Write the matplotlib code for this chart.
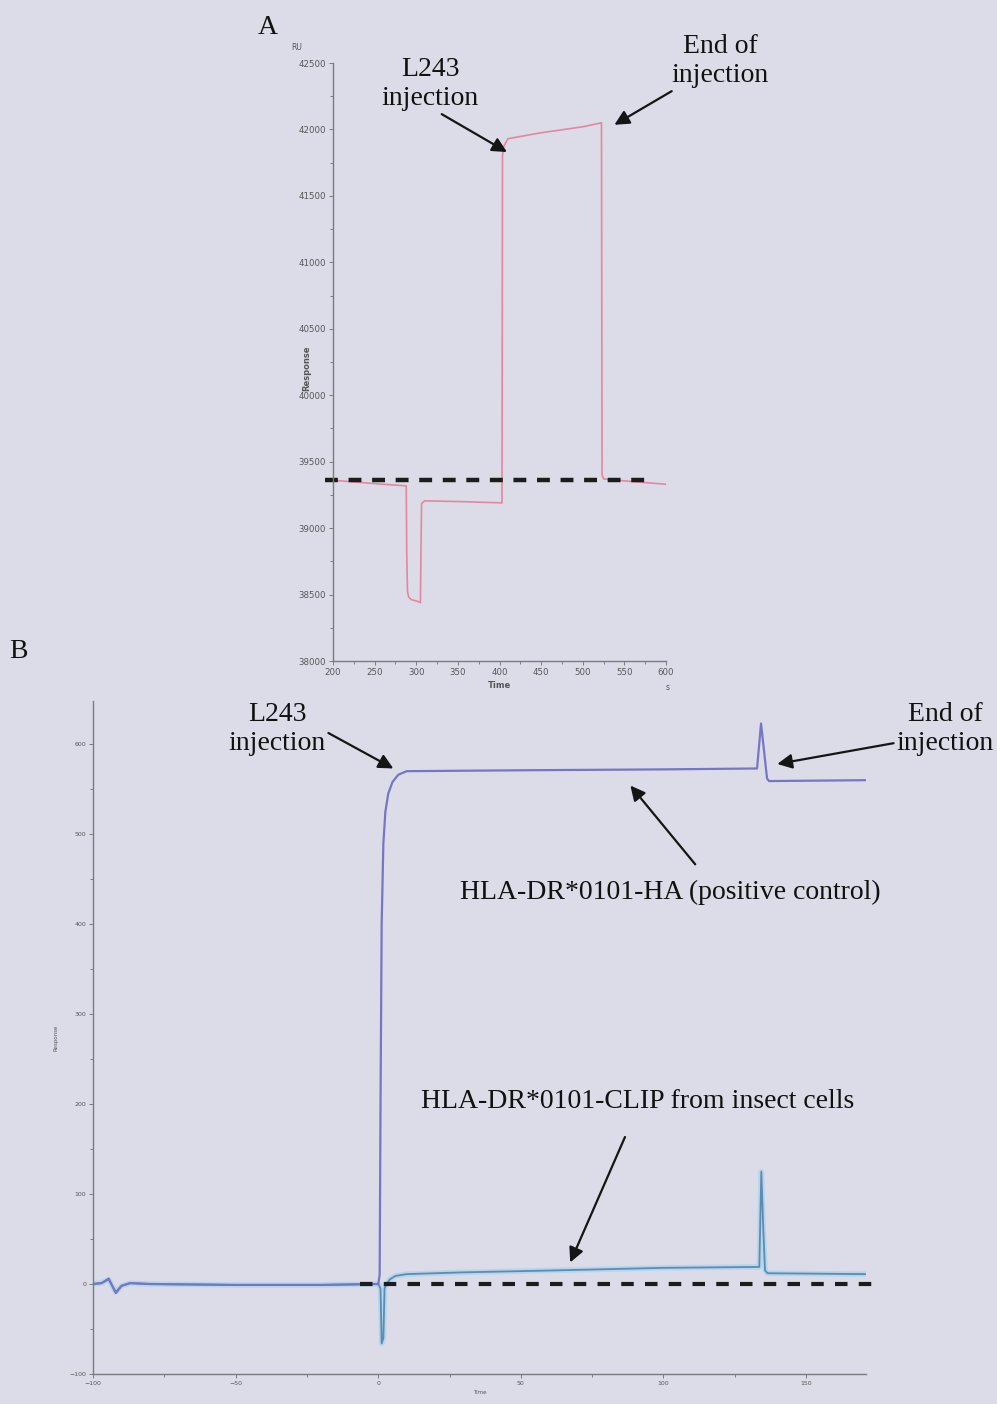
import matplotlib.pyplot as plt
from matplotlib.ticker import MultipleLocator

# Panel A: sensorgram of the L243 injection (RU vs s)
time_a = [200, 230, 260, 288, 288.6, 289.5, 291, 294, 300, 305, 305.6, 306.4, 310,
          350, 403, 403.6, 405, 410, 450, 500, 522.5, 523.2, 525, 560, 600]
resp_a = [39360, 39345, 39330, 39318, 38800, 38520, 38480, 38462, 38452, 38440, 38800,
          39185, 39205, 39200, 39190, 41800, 41870, 41930, 41975, 42020, 42050, 39400,
          39370, 39350, 39330]
baseline_a = 39360

# Panel B: HLA-DR*0101-HA (positive control)
time_ha = [-100, -97, -94.5, -92, -90, -87, -80, -50, -20, -1, 0, 0.5, 0.8, 1.2, 1.8,
           2.5, 3.5, 5, 7, 10, 50, 100, 132.8, 134.2, 135.0, 136.3, 137, 171]
resp_ha = [0, 1, 6, -10, -2, 1, 0, -1, -1, 0, 0, 10, 200, 400, 490, 525, 545, 558,
           566, 570, 571, 572, 573, 623, 600, 562, 559, 560]

# Panel B: HLA-DR*0101-CLIP from insect cells
time_clip = [-100, -97, -94.5, -92, -90, -87, -80, -50, -20, -1, 0, 0.8, 1.2, 1.8, 2.2,
             3, 4, 6, 10, 20, 30, 60, 100, 133.6, 134.3, 135.0, 135.6, 136.5, 171]
resp_clip = [0, 1, 5, -9, -2, 1, 0, -1, -1, 0, 0, -5, -66, -60, -5, 0, 5, 9, 11, 12,
             13, 15, 18, 19, 125, 60, 15, 12, 11]

W, H = 997, 1404
bg = '#dcdce8'
serif = 'Liberation Serif'


def fx(px):
    return px / W


def fy(py):
    return 1 - py / H


def style_axes(ax, size):
    ax.set_facecolor('none')
    for s in ['top', 'right']:
        ax.spines[s].set_visible(False)
    for s in ['left', 'bottom']:
        ax.spines[s].set_color('#7a7a80')
        ax.spines[s].set_linewidth(1.0)
    ax.tick_params(which='both', direction='out', color='#7a7a80', width=0.7,
                   labelsize=size, labelcolor='#555558', pad=2)
    ax.tick_params(which='major', length=3)
    ax.tick_params(which='minor', length=2)


fig = plt.figure(figsize=(W / 100, H / 100), dpi=100, facecolor=bg)

# ---- panel A ----
axa = fig.add_axes([fx(333), fy(661), fx(666) - fx(333), fy(63) - fy(661)])
style_axes(axa, 6.2)
axa.plot(time_a, resp_a, color='#e387a0', lw=1.2)
axa.plot([190, 584], [baseline_a, baseline_a], color='#1c1c1c', lw=3.2,
         ls=(0, (2.9, 2.4)), clip_on=False)
axa.set_xlim(200, 600)
axa.set_ylim(38000, 42500)
axa.xaxis.set_major_locator(MultipleLocator(50))
axa.xaxis.set_minor_locator(MultipleLocator(25))
axa.yaxis.set_major_locator(MultipleLocator(500))
axa.yaxis.set_minor_locator(MultipleLocator(250))
axa.set_xlabel('Time', fontsize=6, color='#555558', fontweight='bold', labelpad=3)
axa.set_ylabel('Response', fontsize=6, color='#555558', fontweight='bold')
axa.yaxis.set_label_coords(-0.065, 0.49)
fig.text(fx(297), fy(47), 'RU', fontsize=5.5, color='#555558', ha='center', va='center')
fig.text(fx(668), fy(688), 's', fontsize=5.5, color='#555558', ha='center', va='center')

# ---- panel B ----
axb = fig.add_axes([fx(93), fy(1374), fx(866) - fx(93), fy(701) - fy(1374)])
style_axes(axb, 4.5)
axb.plot(time_clip, resp_clip, color='#a6d4ec', lw=4.0, alpha=0.7)
axb.plot(time_clip, resp_clip, color='#5d8bb4', lw=1.3)
axb.plot(time_ha, resp_ha, color='#7676c6', lw=1.6)
axb.plot([-6.4, 176], [0, 0], color='#1c1c1c', lw=3.0,
         ls=(0, (3.0, 2.7)), clip_on=False)
axb.set_xlim(-100, 171)
axb.set_ylim(-100, 648)
axb.xaxis.set_major_locator(MultipleLocator(50))
axb.xaxis.set_minor_locator(MultipleLocator(25))
axb.yaxis.set_major_locator(MultipleLocator(100))
axb.yaxis.set_minor_locator(MultipleLocator(50))
axb.set_xlabel('Time', fontsize=4, color='#555558', labelpad=3)
axb.set_ylabel('Response', fontsize=4, color='#555558', labelpad=8)

# ---- panel letters and annotations ----
tk = dict(fontsize=20, family=serif, color='#111111', ha='center', va='center',
          linespacing=1.25)
fig.text(fx(268), fy(27), 'A', **tk)
fig.text(fx(18), fy(652), 'B', **tk)

arrow = dict(arrowstyle='-|>', color='#151515', lw=1.6, mutation_scale=22,
             shrinkA=0, shrinkB=0)

axa.annotate('L243\ninjection', xy=(409, 41830), xycoords='data',
             xytext=(fx(430), fy(84)), textcoords='figure fraction',
             arrowprops=dict(arrow, relpos=(0.62, -0.05)), **tk)
axa.annotate('End of\ninjection', xy=(538, 42035), xycoords='data',
             xytext=(fx(720), fy(61)), textcoords='figure fraction',
             arrowprops=dict(arrow, relpos=(0.1, 0.05)), **tk)

axb.annotate('L243\ninjection', xy=(5.3, 573), xycoords='data',
             xytext=(fx(277), fy(729)), textcoords='figure fraction',
             arrowprops=dict(arrow, relpos=(0.85, 0.6)), annotation_clip=False, **tk)
axb.annotate('End of\ninjection', xy=(139.9, 578), xycoords='data',
             xytext=(fx(945), fy(729)), textcoords='figure fraction',
             arrowprops=dict(arrow, relpos=(0.0, 0.25)), annotation_clip=False, **tk)
axb.annotate('HLA-DR*0101-HA (positive control)', xy=(88.4, 554), xycoords='data',
             xytext=(fx(670), fy(892)), textcoords='figure fraction',
             arrowprops=dict(arrow, relpos=(0.56, 1.6)), annotation_clip=False, **tk)
axb.annotate('HLA-DR*0101-CLIP from insect cells', xy=(67.3, 24), xycoords='data',
             xytext=(fx(638), fy(1102)), textcoords='figure fraction',
             arrowprops=dict(arrow, relpos=(0.47, -0.9)), annotation_clip=False, **tk)

fig.savefig('out.png', dpi=100, facecolor=bg)
